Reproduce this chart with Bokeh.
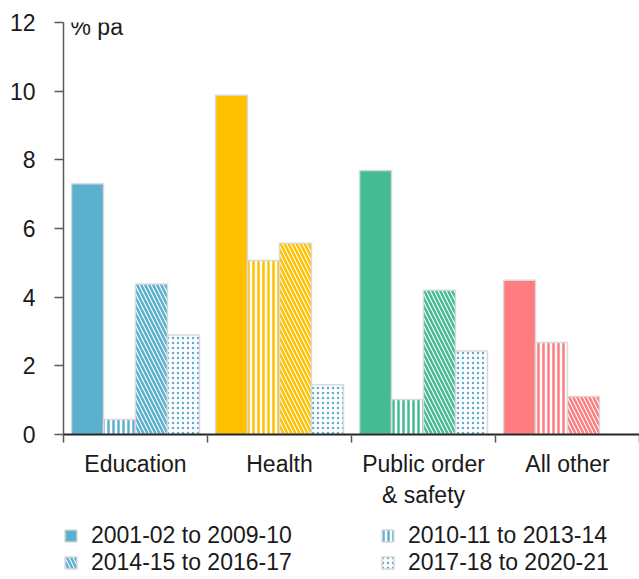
import numpy as np
from bokeh.plotting import figure
from bokeh.layouts import column
from bokeh.models import (ColumnDataSource, Range1d, LinearAxis,
                          FixedTicker, Legend, LegendItem, Label)
from bokeh.embed import file_html
from bokeh.resources import INLINE

categories = ["Education", "Health", "Public order & safety", "All other"]
periods = ["2001-02 to 2009-10", "2010-11 to 2013-14", "2014-15 to 2016-17", "2017-18 to 2020-21"]
p2001_10 = [7.30, 9.88, 7.69, 4.49]
p2010_14 = [0.44, 5.07, 1.02, 2.68]
p2014_17 = [4.38, 5.57, 4.20, 1.11]
p2017_21 = [2.90, 1.45, 2.43, float("nan")]
y_ticks = [0, 2, 4, 6, 8, 10, 12]

cat_colors = ["#5BAFCF", "#FFC000", "#44BB93", "#FF7C80"]
dot_color = "#5BAFCF"
FONT = "Liberation Sans"
FS = "23px"

n = len(categories)
centers = np.arange(n) + 0.5
edges = list(range(n + 1))

p = figure(width=639, height=510, x_range=Range1d(0, n),
           y_range=Range1d(0, 12), output_backend="svg", toolbar_location=None,
           x_axis_location=None, min_border_left=63, min_border_right=0, min_border_top=22,
           min_border_bottom=74)
p.outline_line_color = None
p.xgrid.visible = False
p.ygrid.visible = False

# y axis
ya = p.yaxis[0]
ya.ticker = FixedTicker(ticks=y_ticks)
ya.axis_line_color = "#595959"
ya.axis_line_width = 1.5
ya.major_tick_line_color = "#595959"
ya.major_tick_line_width = 1.5
ya.major_tick_out = 9
ya.major_tick_in = 0
ya.minor_tick_line_color = None
ya.major_label_standoff = 19
ya.major_label_text_font = FONT
ya.major_label_text_font_size = FS
ya.major_label_text_color = "#1a1a1a"

# x axis with ticks at group edges
edge_axis = LinearAxis(ticker=FixedTicker(ticks=edges))
edge_axis.axis_line_color = "#262626"
edge_axis.axis_line_width = 2
edge_axis.major_tick_line_color = "#595959"
edge_axis.major_tick_line_width = 1.5
edge_axis.major_tick_out = 8
edge_axis.major_tick_in = 0
edge_axis.minor_tick_line_color = None
edge_axis.major_label_overrides = {e: "" for e in edges}
edge_axis.major_label_text_font_size = "1px"
edge_axis.major_label_standoff = 0
p.add_layout(edge_axis, "below")

# category labels at group centres
cat_axis = LinearAxis(ticker=FixedTicker(ticks=list(centers)))
cat_axis.axis_line_color = None
cat_axis.major_tick_line_color = None
cat_axis.major_tick_out = 0
cat_axis.major_tick_in = 0
cat_axis.minor_tick_line_color = None
cat_axis.major_label_standoff = 8
cat_axis.major_label_text_font = FONT
cat_axis.major_label_text_font_size = FS
cat_axis.major_label_text_color = "#1a1a1a"
cat_axis.major_label_overrides = {float(c): name.replace("order &", "order\n&")
                                  for c, name in zip(centers, categories)}
p.add_layout(cat_axis, "below")

series = [p2001_10, p2010_14, p2014_17, p2017_21]
offsets = [-0.333, -0.111, 0.111, 0.333]
patterns = [None, "vertical_line", "left_diagonal_line", "dot"]
scales = [None, 5, 8, 5]
weights = [None, 2.5, 2.5, 1.8]

# legend strip below the chart (same bar glyphs, kept outside its visible ranges)
lg = figure(width=639, height=69, x_range=Range1d(-100, -100 + n), y_range=Range1d(100, 101),
            output_backend="svg", toolbar_location=None, x_axis_location=None,
            y_axis_location=None, min_border_left=0, min_border_right=0,
            min_border_top=0, min_border_bottom=0)
lg.outline_line_color = None
lg.xgrid.visible = False
lg.ygrid.visible = False

legend_renderers = []
for i, vals in enumerate(series):
    colors = cat_colors if i < 3 else [dot_color] * n
    src = ColumnDataSource(dict(x=centers + offsets[i], val=vals, color=colors))
    kw = dict(x="x", top="val", bottom=0, width=0.222,
              source=src, line_color="#D9D9D9", line_width=1.5)
    for fig in (p, lg):
        if patterns[i] is None:
            r = fig.vbar(fill_color="color", **kw)
        else:
            r = fig.vbar(fill_color="white", hatch_color="color", hatch_pattern=patterns[i],
                         hatch_scale=scales[i], hatch_weight=weights[i], **kw)
    legend_renderers.append(r)

legend = Legend(items=[LegendItem(label=periods[i], renderers=[legend_renderers[i]], index=0)
                       for i in range(4)],
                orientation="horizontal", ncols=2)
legend.label_text_font = FONT
legend.label_text_font_size = FS
legend.label_text_color = "#1a1a1a"
legend.glyph_width = 15
legend.glyph_height = 15
legend.label_standoff = 13
legend.label_width = 289
legend.label_height = 24
legend.spacing = 0
legend.padding = 0
legend.margin = 0
legend.border_line_color = None
legend.background_fill_alpha = 0
legend.location = (0, 3)
lg.add_layout(legend, "center")

p.add_layout(Label(x=7, y=11.86, x_units="screen", y_units="data", text="% pa",
                   text_font=FONT, text_font_size="23px", text_baseline="middle",
                   text_color="#1a1a1a"))

layout = column(p, lg, spacing=0)
open("out.html", "w").write(file_html(layout, INLINE))
